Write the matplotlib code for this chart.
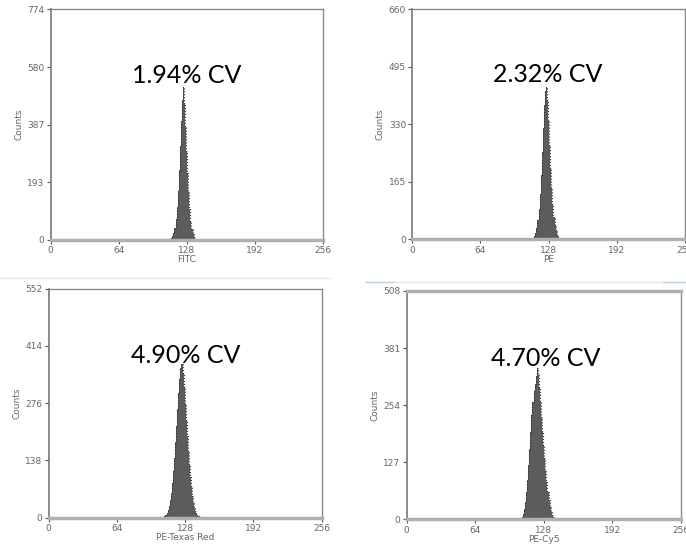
import numpy as np
import matplotlib
matplotlib.use('Agg')
import matplotlib.pyplot as plt
from matplotlib.lines import Line2D

# --- Данные (каналы и счёт) ---
fitc_start = 113
fitc_counts = [2, 6, 12, 22, 40, 70, 110, 165, 235, 315, 400, 470, 512,
               455, 380, 300, 225, 160, 105, 65, 38, 20, 10, 5, 2]

pe_start = 113
pe_counts = [2, 5, 10, 18, 32, 55, 88, 130, 185, 250, 320, 385, 425, 438,
             400, 340, 270, 205, 148, 100, 65, 40, 24, 13, 7, 3, 1]

texas_start = 108
texas_counts = [2, 4, 7, 12, 19, 28, 42, 60, 84, 112, 145, 182, 222, 262,
                300, 335, 360, 371, 350, 315, 275, 235, 196, 160, 128, 98,
                73, 52, 36, 24, 15, 9, 5, 3, 1]

cy5_start = 106
cy5_counts = [1, 3, 6, 12, 22, 38, 60, 88, 120, 156, 194, 232, 262, 285,
              300, 318, 336, 322, 295, 262, 228, 195, 165, 136, 108, 82,
              60, 42, 28, 17, 10, 5, 2, 1]

# редкие события справа от пика
pe_stray = ([172], [2])
texas_stray = ([170], [2])
cy5_stray = ([160, 170], [1, 1])

x_ticks = [0, 64, 128, 192, 256]
x_tick_labels = ['0', '64', '128', '192', '256']

fitc_yticks = [0, 193, 387, 580, 774]
pe_yticks = [0, 165, 330, 495, 660]
texas_yticks = [0, 138, 276, 414, 552]
cy5_yticks = [0, 127, 254, 381, 508]

channel_names = ['FITC', 'PE', 'PE-Texas Red', 'PE-Cy5']
cv_labels = ['1.94% CV', '2.32% CV', '4.90% CV', '4.70% CV']

# --- Макет (пиксели исходника 686x552) ---
W, H = 686, 552
boxes = [
    (50.7, 9.3, 322.7, 240.0),
    (412.3, 9.3, 685.0, 239.3),
    (48.7, 288.7, 321.7, 517.7),
    (406.7, 291.0, 680.7, 519.3),
]
text_pos = [(0.50, 0.715), (0.495, 0.716), (0.50, 0.707), (0.507, 0.706)]

panels = [
    (fitc_start, fitc_counts, None, fitc_yticks),
    (pe_start, pe_counts, pe_stray, pe_yticks),
    (texas_start, texas_counts, texas_stray, texas_yticks),
    (cy5_start, cy5_counts, cy5_stray, cy5_yticks),
]

fig = plt.figure(figsize=(W / 100, H / 100), dpi=100)

# бледные линии-разделители из скриншота
fig.add_artist(Line2D([0, 330 / W], [1 - 278 / H] * 2, color='#e4e4e4', lw=1))
fig.add_artist(Line2D([366 / W, 1], [1 - 282 / H] * 2, color='#e4e4e4', lw=1))
fig.add_artist(Line2D([366 / W, 393 / W], [1 - 282 / H] * 2, color='#b9d3ea', lw=1))
fig.add_artist(Line2D([663 / W, 1], [1 - 282 / H] * 2, color='#b9d3ea', lw=1))

for i, (start, counts, stray, yticks) in enumerate(panels):
    x0, y0, x1, y1 = boxes[i]
    ax = fig.add_axes([x0 / W, 1 - y1 / H, (x1 - x0) / W, (y1 - y0) / H])

    edges = np.arange(start, start + len(counts) + 1) - 0.5
    ax.stairs(counts, edges, fill=True, color='#5c5c5c', lw=0)
    ax.stairs(counts, edges, color='#2e2e2e', lw=0.8, ls=':')
    if stray is not None:
        ax.bar(stray[0], stray[1], width=1.5, color='#666666', linewidth=0)

    ax.set_xlim(0, 256)
    ax.set_ylim(0, yticks[-1])
    ax.set_xticks(x_ticks)
    ax.set_xticklabels(x_tick_labels)
    ax.set_yticks(yticks)
    ax.set_yticklabels([str(v) for v in yticks])
    ax.tick_params(direction='out', length=3, width=0.8, color='#555555',
                   labelsize=6.5, labelcolor='#666666', pad=1.5)

    for s in ['top', 'right']:
        ax.spines[s].set_color('#8a8a8a')
        ax.spines[s].set_linewidth(1.0)
    ax.spines['left'].set_color('#777777')
    ax.spines['left'].set_linewidth(1.2)
    ax.spines['bottom'].set_color('#b0b0b0')
    ax.spines['bottom'].set_linewidth(2.5)
    if i == 3:
        ax.spines['top'].set_color('#b0b0b0')
        ax.spines['top'].set_linewidth(2.5)

    ax.set_ylabel('Counts', fontsize=6.5, color='#666666', labelpad=3)
    ax.set_xlabel(channel_names[i], fontsize=6.5, color='#666666', labelpad=0)

    ax.text(text_pos[i][0], text_pos[i][1], cv_labels[i], transform=ax.transAxes,
            ha='center', va='center', fontsize=18, family=['Lato', 'DejaVu Sans'],
            color='black')

fig.savefig('out.png', dpi=100)
